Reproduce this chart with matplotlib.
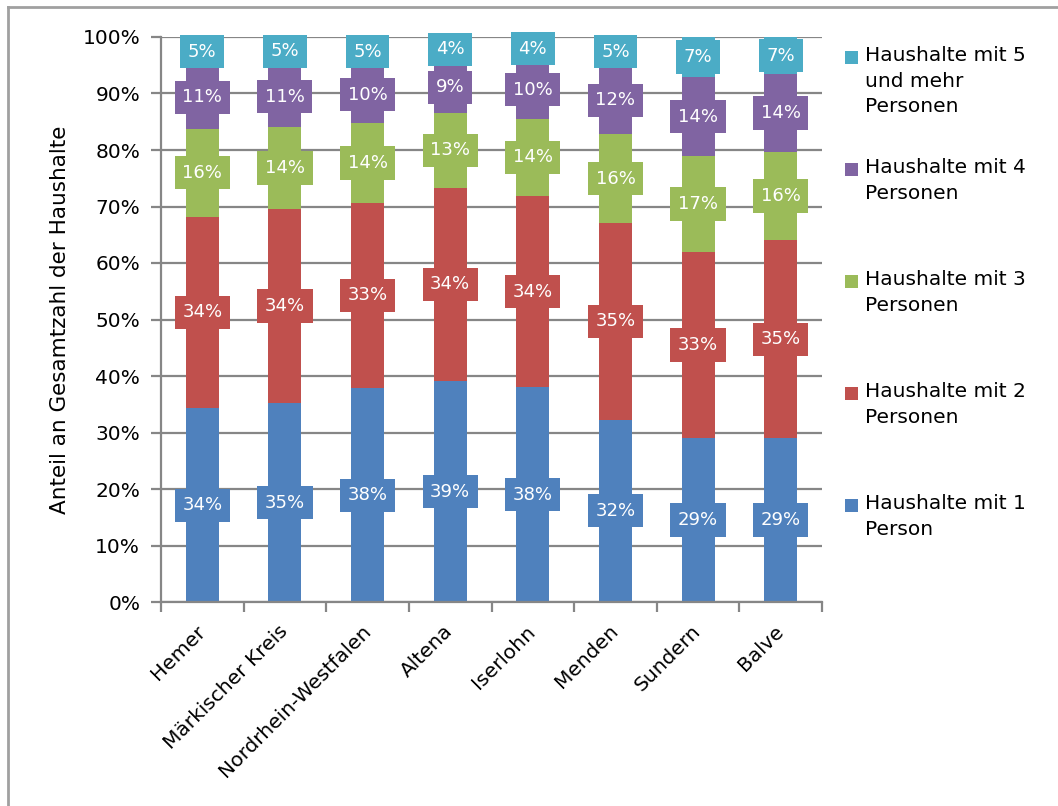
import matplotlib.pyplot as plt
from matplotlib.lines import Line2D
from matplotlib.patches import Rectangle
import numpy as np

# Haushaltsgrößen je Gebiet (Anteile in %)
regions = ["Hemer", "Märkischer Kreis", "Nordrhein-Westfalen", "Altena",
           "Iserlohn", "Menden", "Sundern", "Balve"]
pers_1 = [34.3, 35.2, 37.8, 39.1, 38.0, 32.3, 29.0, 29.0]
pers_2 = [33.9, 34.4, 32.9, 34.2, 33.9, 34.7, 33.0, 35.0]
pers_3 = [15.6, 14.4, 14.0, 13.3, 13.6, 15.8, 16.9, 15.7]
pers_4 = [11.0, 10.9, 10.1, 9.0, 10.3, 12.0, 14.0, 13.7]
pers_5 = [5.2, 5.1, 5.2, 4.4, 4.2, 5.2, 7.1, 6.6]

series_names = ["Haushalte mit 1\nPerson",
                "Haushalte mit 2\nPersonen",
                "Haushalte mit 3\nPersonen",
                "Haushalte mit 4\nPersonen",
                "Haushalte mit 5\nund mehr\nPersonen"]
series_values = [pers_1, pers_2, pers_3, pers_4, pers_5]
colors = ["#4F81BD", "#C0504D", "#9BBB59", "#8064A2", "#4BACC6"]
y_ticks = list(range(0, 101, 10))

W, H = 1058, 806
FONT = "DejaVu Sans"
plt.rcParams['font.family'] = [FONT]
grid_grey = "#868686"

fig = plt.figure(figsize=(W / 100, H / 100), dpi=100)
ax = fig.add_axes([161 / W, 1 - 602 / H, (822 - 161) / W, (602 - 37) / H])

x = np.arange(len(regions))
bottom = np.zeros(len(regions))
for vals, col in zip(series_values, colors):
    vals = np.array(vals)
    ax.bar(x, vals, bottom=bottom, width=0.4, color=col, zorder=2)
    for xi, b, v in zip(x, bottom, vals):
        ax.text(xi, b + v / 2, "%d%%" % round(v), ha="center", va="center",
                color="white", fontsize=13, zorder=4,
                bbox=dict(boxstyle="square,pad=0.42", fc=col, ec="none"))
    bottom += vals

ax.set_xlim(-0.5, len(regions) - 0.5)
ax.set_ylim(0, 100)
ax.set_yticks(y_ticks)
ax.set_yticklabels(["%d%%" % t for t in y_ticks], fontsize=14.5)
ax.yaxis.grid(True, color=grid_grey, linewidth=1.6, zorder=0)
ax.set_axisbelow(True)

ax.set_xticks(x)
ax.set_xticklabels(regions, rotation=45, ha="right", va="center",
                   rotation_mode="anchor", fontsize=14.5)
ax.set_xticks(np.arange(-0.5, len(regions)), minor=True)
ax.tick_params(axis="x", which="major", length=0, pad=19)
ax.tick_params(axis="x", which="minor", length=7, width=1.6, color=grid_grey)
ax.tick_params(axis="y", length=7, width=1.6, color=grid_grey, pad=8)

for side in ["top", "right"]:
    ax.spines[side].set_visible(False)
for side in ["left", "bottom"]:
    ax.spines[side].set_color(grid_grey)
    ax.spines[side].set_linewidth(1.6)

fig.text(60 / W, 1 - 320 / H, "Anteil an Gesamtzahl der Haushalte",
         rotation=90, ha="center", va="center", fontsize=15.5)

# legend: fixed slots, last series on top
for i, (name, col) in enumerate(zip(series_names[::-1], colors[::-1])):
    top = 46 + 112 * i
    fig.add_artist(Rectangle((845 / W, 1 - (top + 18) / H), 13 / W, 13 / H,
                             transform=fig.transFigure, fc=col, ec="none"))
    fig.text(865 / W, 1 - top / H, name, ha="left", va="top",
             fontsize=14.5, linespacing=1.45)

# chart frame
fig.add_artist(Line2D([8 / W, 1], [1 - 7 / H, 1 - 7 / H], transform=fig.transFigure,
                      color="#A0A0A0", linewidth=2))
fig.add_artist(Line2D([8 / W, 8 / W], [0, 1 - 7 / H], transform=fig.transFigure,
                      color="#A0A0A0", linewidth=2))

fig.savefig("out.png", dpi=100)
